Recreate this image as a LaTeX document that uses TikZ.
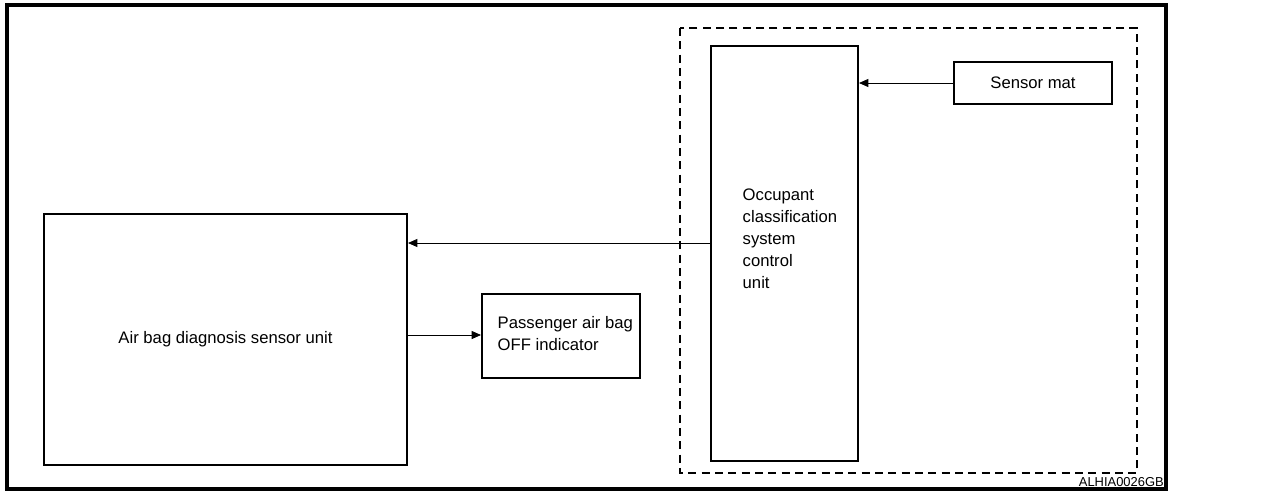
\documentclass[tikz,border=0pt]{standalone}
\usepackage{fontspec}
\setmainfont{Liberation Sans}
\usetikzlibrary{arrows.meta}
\begin{document}
\begin{tikzpicture}[x=0.75pt,y=-0.75pt,
  box/.style={draw,line width=1.5pt,inner sep=0pt},
  conn/.style={line width=0.6pt,-{Triangle[length=7pt,width=6pt]}},
  lbl/.style={font=\fontsize{12.5}{16.5}\selectfont,align=left}]
\useasboundingbox (0,0) rectangle (1277,494);
\draw[line width=2.4pt] (7,5) rectangle (1166,489);
\draw[dashed,line width=0.8pt,dash pattern=on 6pt off 4pt] (680,28) rectangle (1137,473);
\node[box,minimum width=363*0.75pt,minimum height=251*0.75pt] (diag) at (225.5,339.5) {};
\node[lbl] at (diag.center) {Air bag diagnosis sensor unit};
\node[box,minimum width=158*0.75pt,minimum height=84*0.75pt] (pass) at (561,336) {};
\node[lbl,anchor=west] at (493,334) {Passenger air bag\\OFF indicator};
\node[box,minimum width=147*0.75pt,minimum height=415*0.75pt] (ocs) at (784.5,253.5) {};
\node[lbl,anchor=west] at (738,239) {Occupant\\classification\\system\\control\\unit};
\node[box,minimum width=158*0.75pt,minimum height=42*0.75pt] (mat) at (1033,83) {};
\node[lbl] at (mat.center) {Sensor mat};
\draw[conn] (mat.west) -- (ocs.east |- mat.west);
\draw[conn] (ocs.west |- 0,243) -- (diag.east |- 0,243);
\draw[conn] (diag.east |- 0,335) -- (pass.west |- 0,335);
\node[font=\fontsize{9.7}{10}\selectfont,anchor=south east,inner sep=0pt] (code) at (1164,487) {ALHIA0026GB};
\end{tikzpicture}
\end{document}
